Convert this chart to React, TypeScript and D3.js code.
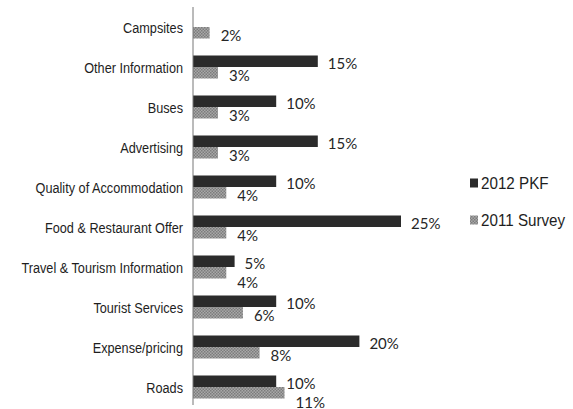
import React from "react";
import * as d3 from "d3";

const categories = [
  "Campsites",
  "Other Information",
  "Buses",
  "Advertising",
  "Quality of Accommodation",
  "Food & Restaurant Offer",
  "Travel & Tourism Information",
  "Tourist Services",
  "Expense/pricing",
  "Roads",
];
const pkf2012 = [0, 15, 10, 15, 10, 25, 5, 10, 20, 10];
const survey2011 = [2, 3, 3, 3, 4, 4, 4, 6, 8, 11];
const seriesNames = ["2012 PKF", "2011 Survey"];

const W = 573;
const H = 409;
const AXIS_X = 193;
const DARK = "#2b2b2b";
const CAT_FONT = "'Liberation Sans', Arial, sans-serif";
const VAL_FONT = "Lato, 'Open Sans', sans-serif";

export default function App() {
  const y = d3.scaleBand<string>().domain(categories).range([7, 407]).paddingInner(0).paddingOuter(0);
  const x = d3.scaleLinear().domain([0, 25]).range([AXIS_X, 401]);
  const barH = 11.5;
  const valSize = 15;
  const approxW = (v: number) => (String(v).length * 0.58 + 0.8) * valSize;

  return (
    <div style={{ position: "absolute", left: 0, top: 0 }}>
      <svg width={W} height={H} style={{ display: "block", background: "#fff" }}>
        <defs>
          <pattern id="halftone" width="3" height="3" patternUnits="userSpaceOnUse">
            <rect width="3" height="3" fill="#a8a8a8" />
            <rect width="1.5" height="1.5" fill="#7c7c7c" />
            <rect x="1.5" y="1.5" width="1.5" height="1.5" fill="#7c7c7c" />
          </pattern>
        </defs>
        {categories.map((c, i) => {
          const cy = (y(c) as number) + y.bandwidth() / 2;
          const v1 = pkf2012[i];
          const v2 = survey2011[i];
          const dx = x(v1) + 10;
          const lx = x(v2) + 11;
          const overlap = v1 > 0 && lx + approxW(v2) > dx - 2 && lx < dx + approxW(v1);
          const ly = cy + (overlap ? 14.5 : 8);
          return (
            <g key={c}>
              <text
                transform={`translate(183,${cy + 1}) scale(0.82,1)`}
                textAnchor="end"
                dominantBaseline="central"
                fontFamily={CAT_FONT}
                fontSize={15.5}
                fill="#1e1e1e"
              >
                {c}
              </text>
              {v1 > 0 && (
                <>
                  <rect x={x(0)} y={cy - barH} width={x(v1) - x(0)} height={barH} fill={DARK} />
                  <text
                    x={dx}
                    y={cy - 4.5}
                    dominantBaseline="central"
                    fontFamily={VAL_FONT}
                    fontSize={valSize}
                    fill="#262626"
                  >
                    {v1}%
                  </text>
                </>
              )}
              <rect x={x(0)} y={cy} width={x(v2) - x(0)} height={barH} fill="url(#halftone)" />
              <text
                x={lx}
                y={ly}
                dominantBaseline="central"
                fontFamily={VAL_FONT}
                fontSize={valSize}
                fill="#262626"
              >
                {v2}%
              </text>
            </g>
          );
        })}
        <line x1={AXIS_X} x2={AXIS_X} y1={7} y2={405} stroke="#777" strokeWidth={1} />
        {seriesNames.map((s, i) => {
          const ty = 183 + i * 37;
          return (
            <g key={s}>
              <rect x={470} y={ty - 4.5} width={8} height={9} fill={i === 0 ? DARK : "url(#halftone)"} />
              <text
                transform={`translate(481,${ty}) scale(0.95,1)`}
                dominantBaseline="central"
                fontFamily={CAT_FONT}
                fontSize={16}
                fill="#1e1e1e"
              >
                {s}
              </text>
            </g>
          );
        })}
      </svg>
    </div>
  );
}
